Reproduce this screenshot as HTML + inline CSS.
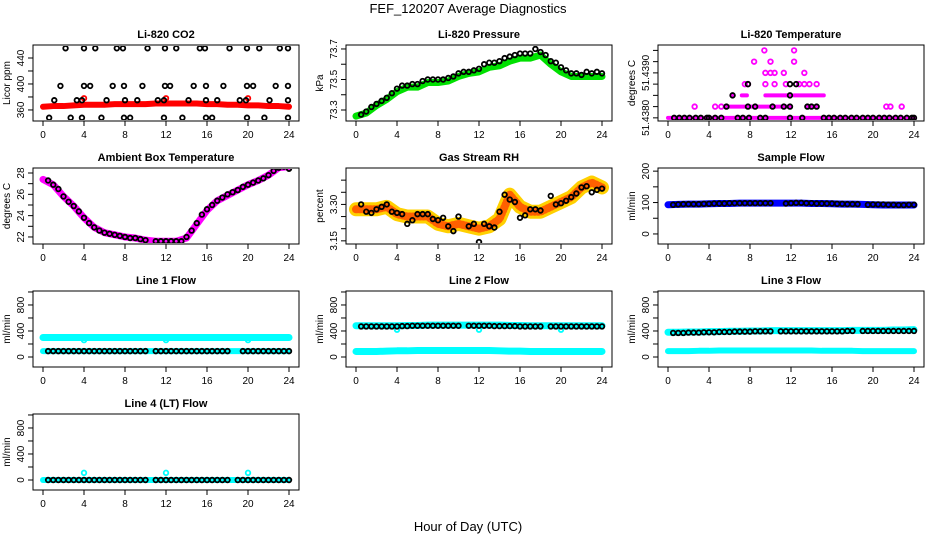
<!DOCTYPE html>
<html><head><meta charset="utf-8">
<style>
html,body{margin:0;padding:0;background:#fff;}
svg{display:block;font-family:"Liberation Sans",Arial,sans-serif;}
</style></head>
<body>
<svg id="chart" width="936" height="540" viewBox="0 0 936 540" xmlns="http://www.w3.org/2000/svg">
<text x="468" y="13" font-size="13" text-anchor="middle">FEF_120207  Average Diagnostics</text>
<text x="468" y="531" font-size="13" text-anchor="middle">Hour of Day (UTC)</text>
</svg>
<script>
// ---------- shared data ----------
const hourTicks = [0,4,8,12,16,20,24];
const bandHours = [0,1,2,3,4,5,6,7,8,9,10,11,12,13,14,15,16,17,18,19,20,21,22,23,24];
const circleHours = [0.5,1,1.5,2,2.5,3,3.5,4,4.5,5,5.5,6,6.5,7,7.5,8,8.5,9,9.5,10,10.5,11,11.5,12,12.5,13,13.5,14,14.5,15,15.5,16,16.5,17,17.5,18,18.5,19,19.5,20,20.5,21,21.5,22,22.5,23,23.5,24];

// CO2
const co2Band = [365,366,366,367,368,368,368,369,369,369,369,370,370,370,370,370,369,369,368,368,367,367,366,366,365];
const co2Hours348 = [0.6,2.7,3.8,5.7,7.9,8.5,11.8,13.6,15.9,16.5,19.9,21.6,23.9];
const co2Hours375 = [1.1,3.3,3.8,6.2,8.0,9.2,11.2,11.8,14.2,15.9,17.0,19.2,19.8,22.1,23.9];
const co2Hours397 = [1.7,4.0,4.6,6.8,7.9,9.7,11.9,12.4,14.7,15.9,17.6,19.9,20.5,22.7,23.9];
const co2Hours455 = [2.2,4.0,5.1,7.2,7.8,10.2,11.9,13.0,15.3,15.8,18.2,19.9,21.1,23.1,23.9];
const co2RedHours = [4.0,12.0,20.0];
const co2RedValues = [378,378,378];

// Pressure
const presBand = [73.26,73.28,73.33,73.37,73.42,73.45,73.45,73.48,73.48,73.49,73.52,73.54,73.55,73.58,73.59,73.62,73.64,73.64,73.66,73.60,73.55,73.52,73.52,73.52,73.52];
const presCircles = [73.27,73.29,73.32,73.34,73.36,73.38,73.41,73.44,73.46,73.46,73.47,73.47,73.49,73.50,73.50,73.50,73.50,73.51,73.52,73.54,73.55,73.55,73.56,73.57,73.60,73.61,73.61,73.62,73.64,73.65,73.66,73.67,73.67,73.67,73.70,73.68,73.66,73.62,73.61,73.58,73.56,73.54,73.54,73.53,73.55,73.54,73.55,73.54];

// Li-820 temperature (level index: value = 51.4380 + level*0.00025)
const tempBandRanges = [[0,24,0],[5.7,7.5,1],[7.8,12,1],[13.5,14.6,1],[9.5,11.9,2],[12.3,15.2,2],[6.2,6.4,2],[7.2,7.7,2]];
const tempMagHours = [2.6,4.6,5.2,21.3,21.7,22.8,9.5,10.4,11.5,12.8,13.3,13.8,14.5,7.5,7.8,9.5,10.0,10.4,11.3,13.3,8.4,10.0,12.3,9.4,12.3];
const tempMagLevels = [1,1,1,1,1,1,3,3,3,3,3,3,3,3,3,4,4,4,4,4,5,5,5,6,6];
const tempBlackHours = [0.6,1.1,1.6,2.1,2.7,3.2,3.8,4.0,4.6,5.2,6.8,7.3,7.9,9.0,9.5,11.9,13.1,15.2,15.7,16.2,16.8,17.3,17.9,18.4,19.0,19.5,20.0,20.6,21.1,21.6,22.2,22.7,23.3,23.8,24.0,5.7,7.8,8.5,10.2,11.3,11.9,13.6,14.0,14.5,6.3,11.9,7.8,11.9,12.5];
const tempBlackLevels = [0,0,0,0,0,0,0,0,0,0,0,0,0,0,0,0,0,0,0,0,0,0,0,0,0,0,0,0,0,0,0,0,0,0,0,1,1,1,1,1,1,1,1,1,2,2,3,3,3];

// Ambient
const ambBand = [27.4,26.9,25.8,24.9,23.8,22.9,22.4,22.2,22.0,21.9,21.7,21.6,21.6,21.6,21.9,23.2,24.5,25.4,25.9,26.4,26.9,27.3,27.8,28.5,28.6];
const ambCircles = [27.3,26.9,26.5,25.8,25.3,24.9,24.4,23.8,23.3,22.9,22.6,22.4,22.3,22.2,22.1,22.0,21.9,21.9,21.8,21.7,null,21.6,21.6,21.6,21.6,21.6,21.6,22.0,22.6,23.3,24.1,24.6,25.0,25.4,25.7,26.0,26.2,26.4,26.7,26.9,27.1,27.3,27.5,27.8,28.2,28.5,28.6,28.4];

// RH
const rhBand = [3.28,3.28,3.28,3.29,3.26,3.25,3.25,3.25,3.22,3.21,3.22,3.21,3.20,3.21,3.24,3.34,3.29,3.27,3.27,3.29,3.31,3.33,3.37,3.39,3.37];
const rhCircles = [3.30,3.27,3.265,3.28,3.29,3.30,3.27,3.265,3.26,3.22,3.235,3.26,3.26,3.26,3.24,3.235,3.245,3.21,3.19,3.25,null,3.21,3.22,3.145,3.22,3.21,3.205,3.27,3.34,3.32,3.31,3.245,3.255,3.28,3.28,3.275,null,3.335,3.30,3.305,3.315,3.33,3.345,3.37,3.375,3.35,3.36,3.365];

// Sample flow
const sfBand = [93,94,95,95,96,97,97,98,98,98,98,98,98,98,97,97,96,95,95,94,93,92,92,92,92];
const sfCircles = [93,94,95,95,95,95,96,96,97,97,97,98,98,98,98,98,98,98,98,98,null,null,97,98,99,99,98,98,97,97,97,97,96,96,95,95,95,null,93,94,94,94,93,93,92,92,93,93];

// Line flows
const l1High = [300,300,300,300,300,300,300,300,300,300,300,300,300,300,300,300,300,300,300,300,300,300,300,300,300];
const l1Low = [90,90,90,90,90,90,90,90,90,90,90,90,90,90,90,90,90,90,90,90,90,90,90,90,90];
const l1Circles = [90,90,90,90,90,90,90,90,90,90,90,90,90,90,90,90,90,90,90,90,null,90,90,90,90,90,90,90,90,90,90,90,90,90,90,90,null,null,90,90,90,90,90,90,90,90,90,90];
const l2High = [480,480,480,480,480,485,485,490,490,490,490,490,490,490,490,485,485,480,480,480,480,480,480,480,480];
const l2Low = [85,85,85,90,95,95,100,100,100,100,100,100,100,100,95,90,90,85,85,85,85,85,85,85,85];
const l2Circles = [470,470,470,470,470,470,470,470,475,475,480,480,480,480,480,480,480,480,480,480,null,480,480,480,480,480,475,475,475,475,475,470,470,470,470,470,null,470,470,470,470,470,470,470,470,470,470,470];
const l3High = [380,380,385,385,390,390,395,395,400,400,405,405,405,405,405,405,405,405,410,410,410,410,415,415,420];
const l3Low = [90,90,90,95,95,100,100,100,100,100,100,100,100,100,100,95,95,95,95,90,90,90,90,90,90];
const l3Circles = [370,370,370,375,375,375,380,380,380,385,385,385,390,390,390,390,395,395,395,395,null,395,395,395,395,395,395,395,395,395,395,395,395,395,400,400,null,400,400,400,400,400,400,400,400,400,400,400];
const l4Band = [0,0,0,0,0,0,0,0,0,0,0,0,0,0,0,0,0,0,0,0,0,0,0,0,0];
const l4Circles = [0,0,0,0,0,0,0,0,0,0,0,0,0,0,0,0,0,0,0,0,null,0,0,0,0,0,0,0,0,0,0,0,0,0,0,0,null,0,0,0,0,0,0,0,0,0,0,0];
const spikeHours = [4,12,20];
const l4Spikes = [110,110,110];
const l1Dips = [260,260,260];
const l2Dips = [420,420,420];

// ---------- drawing ----------
const NS = 'http://www.w3.org/2000/svg';
const svg = document.getElementById('chart');
const colX = [33,346,658];
const rowY = [45,168,291,414];
const PW = 266, PH = 76;

function mk(tag, parent, attrs){
  const e = document.createElementNS(NS, tag);
  for (const k in attrs) e.setAttribute(k, attrs[k]);
  parent.appendChild(e);
  return e;
}

function makePanel(col,row,title,ylab,ylim,ticks,labTicks,fmt,name){
  const g = mk('g', svg, {});
  
  
  const x0 = colX[col], y0 = rowY[row];
  const sx = h => x0 + 10 + h*(PW-20)/24;
  const sy = v => y0 + PH - (v-ylim[0])/(ylim[1]-ylim[0])*PH;
  const box = mk('rect', g, {x:x0,y:y0,width:PW,height:PH,fill:'none',stroke:'#000','stroke-width':1});
  
  
  const t = mk('text', g, {x:x0+PW/2,y:y0-7,'font-size':11,'font-weight':'bold','text-anchor':'middle'});
  t.textContent = title;
  
  
  const xa = mk('g', g, {});
  
  
  mk('line', xa, {x1:sx(0),x2:sx(24),y1:y0+PH,y2:y0+PH,stroke:'#000'});
  hourTicks.forEach(h=>{
    mk('line', xa, {x1:sx(h),x2:sx(h),y1:y0+PH,y2:y0+PH+5,stroke:'#000'});
    const tl = mk('text', xa, {x:sx(h),y:y0+PH+17,'font-size':10,'text-anchor':'middle'});
    tl.textContent = h;
    
    
  });
  const ya = mk('g', g, {});
  
  
  mk('line', ya, {x1:x0,x2:x0,y1:sy(ticks[0]),y2:sy(ticks[ticks.length-1]),stroke:'#000'});
  ticks.forEach(v=>{
    mk('line', ya, {x1:x0-5,x2:x0,y1:sy(v),y2:sy(v),stroke:'#000'});
  });
  labTicks.forEach(v=>{
    const tx = x0-9, ty = sy(v);
    const tl = mk('text', ya, {x:tx,y:ty,'font-size':10,'text-anchor':'middle',transform:`rotate(-90 ${tx} ${ty})`});
    tl.textContent = fmt(v);
    
    
  });
  const yl = mk('text', g, {x:x0-23,y:y0+PH/2,'font-size':10,'text-anchor':'middle',transform:`rotate(-90 ${x0-23} ${y0+PH/2})`});
  yl.textContent = ylab;
  
  
  const clip = 'clip'+col+'_'+row;
  const cp = mk('clipPath', g, {id:clip});
  mk('rect', cp, {x:x0+1,y:y0+1,width:PW-2,height:PH-2});
  const plot = mk('g', g, {'clip-path':`url(#${clip})`});
  return {g:plot,sx,sy};
}

function band(p, hours, vals, color, width, dash){
  const pts = hours.map((h,i)=>vals[i]==null?null:`${p.sx(h)},${p.sy(vals[i])}`).filter(Boolean).join(' ');
  const pl = mk('polyline', p.g, {points:pts,fill:'none',stroke:color,'stroke-width':width,'stroke-linejoin':'round','stroke-linecap':'round'});
  if (dash) pl.setAttribute('stroke-dasharray', dash);
  
  
}
function circles(p, hours, vals, color, r, sw){
  hours.forEach((h,i)=>{
    if (vals[i]==null) return;
    const c = mk('circle', p.g, {cx:p.sx(h),cy:p.sy(vals[i]),r:r||2.3,fill:'none',stroke:color||'#000','stroke-width':sw||1.8});
    
    
  });
}
const const_ = (arr,v)=>arr.map(()=>v);

// 1 CO2
let p = makePanel(0,0,'Li-820 CO2','Licor ppm',[343,460],[360,380,400,420,440],[360,400,440],v=>v,'panel-co2');
band(p, bandHours, co2Band, '#ff0000', 6);
circles(p, co2RedHours, co2RedValues, '#ff0000');
circles(p, co2Hours348, const_(co2Hours348,348));
circles(p, co2Hours375, const_(co2Hours375,375));
circles(p, co2Hours397, const_(co2Hours397,397));
circles(p, co2Hours455, const_(co2Hours455,455));

// 2 Pressure
p = makePanel(1,0,'Li-820 Pressure','kPa',[73.228,73.726],[73.3,73.4,73.5,73.6,73.7],[73.3,73.5,73.7],v=>v.toFixed(1),'panel-pressure');
band(p, bandHours, presBand, '#00e000', 7);
circles(p, circleHours, presCircles);

// 3 Li-820 temperature
p = makePanel(2,0,'Li-820 Temperature','degrees C',[51.43793,51.43962],[51.438,51.43825,51.4385,51.43875,51.439,51.43925,51.4395],[51.438,51.439],v=>v.toFixed(4),'panel-li820-temperature');
const lv = l => 51.438 + l*0.00025;
tempBandRanges.forEach(r=>{
  const ln = mk('line', p.g, {x1:p.sx(r[0]),x2:p.sx(r[1]),y1:p.sy(lv(r[2])),y2:p.sy(lv(r[2])),stroke:'#ff00ff','stroke-width':4,'stroke-linecap':'round'});
  
  
});
circles(p, tempMagHours, tempMagLevels.map(lv), '#ff00ff');
circles(p, tempBlackHours, tempBlackLevels.map(lv));

// 4 Ambient
p = makePanel(0,1,'Ambient Box Temperature','degrees C',[21.34,28.47],[22,23,24,25,26,27,28],[22,24,26,28],v=>v,'panel-ambient-temperature');
band(p, bandHours, ambBand, '#ff00ff', 7);
circles(p, circleHours, ambCircles);

// 5 RH
p = makePanel(1,1,'Gas Stream RH','percent',[3.137,3.45],[3.15,3.2,3.25,3.3,3.35,3.4],[3.15,3.3],v=>v.toFixed(2),'panel-gas-stream-rh');
band(p, bandHours, rhBand, '#ffd000', 14);
band(p, bandHours, rhBand, '#ff6000', 8, '1 2.5');
circles(p, circleHours, rhCircles);

// 6 Sample flow
p = makePanel(2,1,'Sample Flow','ml/min',[-32,210],[0,50,100,150,200],[0,100,200],v=>v,'panel-sample-flow');
band(p, bandHours, sfBand, '#0000ff', 7);
circles(p, circleHours, sfCircles);

const flowLim = [-154,1015], flowTicks=[0,200,400,600,800,1000], flowLab=[0,400,800];
// 7 Line 1
p = makePanel(0,2,'Line 1 Flow','ml/min',flowLim,flowTicks,flowLab,v=>v,'panel-line1-flow');
band(p, bandHours, l1High, '#00ffff', 7);
band(p, bandHours, l1Low, '#00ffff', 6);
circles(p, spikeHours, l1Dips, '#00ffff');
circles(p, circleHours, l1Circles);
// 8 Line 2
p = makePanel(1,2,'Line 2 Flow','ml/min',flowLim,flowTicks,flowLab,v=>v,'panel-line2-flow');
band(p, bandHours, l2High, '#00ffff', 7);
band(p, bandHours, l2Low, '#00ffff', 7);
circles(p, spikeHours, l2Dips, '#00ffff');
circles(p, circleHours, l2Circles);
// 9 Line 3
p = makePanel(2,2,'Line 3 Flow','ml/min',flowLim,flowTicks,flowLab,v=>v,'panel-line3-flow');
band(p, bandHours, l3High, '#00ffff', 7);
band(p, bandHours, l3Low, '#00ffff', 6);
circles(p, circleHours, l3Circles);
// 10 Line 4
p = makePanel(0,3,'Line 4 (LT) Flow','ml/min',flowLim,flowTicks,flowLab,v=>v,'panel-line4-flow');
band(p, bandHours, l4Band, '#00ffff', 6);
circles(p, spikeHours, l4Spikes, '#00ffff');
circles(p, circleHours, l4Circles);
</script>
</body></html>
